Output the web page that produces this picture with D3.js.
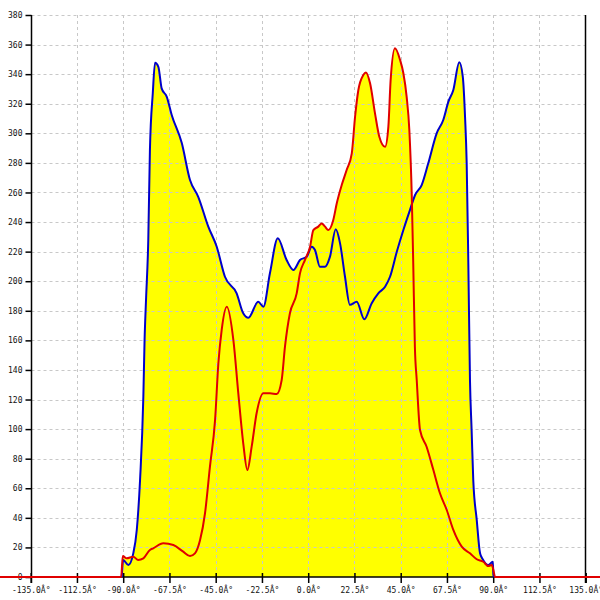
<!DOCTYPE html>
<html><head><meta charset="utf-8">
<script src="https://cdn.jsdelivr.net/npm/d3@7"></script>
<style>html,body{margin:0;padding:0;background:#fff;}svg{display:block;}</style>
</head><body>
<svg id="c" width="600" height="600"></svg>
<script>
const xTicks = [-135,-112.5,-90,-67.5,-45,-22.5,0,22.5,45,67.5,90,112.5,135];
const yTicks = d3.range(0, 381, 20);

const blueAngles = [-90.7,-90,-87.5,-85.1,-83.4,-81.8,-80.2,-79.6,-78.9,-77.8,-77.0,-75.6,-74.5,-72.9,-71.3,-68.8,-66.4,-61.5,-57.5,-53.5,-48.6,-44.5,-40.5,-34.8,-31.6,-29.1,-24.3,-21.8,-18.6,-14.8,-10.5,-7.2,-4.0,-0.7,1.7,3.3,5.7,8.2,10.6,13.4,15.5,17.9,20.3,23.6,27.3,30.9,34.1,37.4,39.8,43.1,46.3,49.5,52.0,55.2,58.4,62.5,65.7,68.2,70.6,73.5,75.2,76.3,77.1,77.9,78.7,79.5,80.3,82.0,83.6,84.9,87.6,89.8,90.1,90.4];
const blueValues = [0,11.5,8.1,16.0,31.8,65.6,121.9,160.2,187.3,227.9,288.7,327.3,347.7,345.0,330.4,324.7,312.4,293.4,268.4,257.1,236.9,223.3,203.0,191.8,178.3,175.3,186.1,182.8,205.5,229.0,214.3,207.6,214.3,216.6,223.3,221.1,209.8,209.8,216.6,235.1,225.6,203.0,184.0,186.1,174.2,185.1,191.8,196.3,203.0,219.9,234.6,248.1,258.3,265.0,279.7,300.0,309.0,321.4,329.3,348.0,338.3,311.2,279.7,212.1,133.2,99.4,65.6,38.5,16.0,12.0,8.1,10.3,1.4,0];

const redAngles = [-150,-91.0,-90.2,-88.3,-85.1,-82.7,-80.2,-77.0,-75.4,-70.5,-65.6,-60.8,-57.5,-55.1,-52.6,-50.2,-47.8,-45.3,-43.7,-42.1,-39.6,-36.4,-34.0,-31.6,-29.6,-27.5,-25.1,-21.8,-18.6,-15.3,-12.9,-11.3,-8.9,-5.6,-4.0,-1.6,0.9,2.5,4.9,6.6,8.2,9.8,12.2,13.9,16.3,18.7,21.2,22.8,24.4,26.8,28.1,30.1,32.5,34.6,37.4,39.0,40.1,42.2,44.7,46.3,47.9,49.2,50.4,51.1,51.9,52.8,54.4,57.6,60.9,64.1,67.4,70.6,74.7,78.7,82.0,85.2,87.6,89.3,90.1,90.9,150];
const redValues = [0,0,14.2,12.6,13.7,11.5,12.6,18.3,19.4,22.8,21.6,17.1,14.2,16.0,25.0,43.1,74.6,106.2,144.5,167.0,182.8,160.2,124.2,90.4,72.3,88.1,110.7,124.2,124.2,123.7,133.2,155.7,178.3,191.8,205.3,214.3,223.3,234.6,236.9,239.1,236.9,234.6,241.4,252.7,265.0,275.2,286.5,311.2,329.3,339.4,341.2,333.8,313.5,297.7,290.9,304.5,336.0,357.5,349.6,340.6,324.7,302.2,257.1,212.1,155.7,133.2,99.4,88.1,72.3,56.6,45.3,31.8,20.5,16.0,12.0,10.3,7.4,8.1,4.7,0,0];

const blue = blueAngles.map((a,i)=>({a, v: blueValues[i]}));
const red = redAngles.map((a,i)=>({a, v: redValues[i]}));

const svg = d3.select("#c");
const x = d3.scaleLinear().domain([-135,135]).range([30.7,585.7]);
const y = d3.scaleLinear().domain([0,380]).range([577,15]);

const area = d3.area().x(d=>x(d.a)).y0(y(0)).y1(d=>y(d.v)).curve(d3.curveMonotoneX);
const line = d3.line().x(d=>x(d.a)).y(d=>y(d.v)).curve(d3.curveMonotoneX);

svg.append("path").datum(blue).attr("d", area).attr("fill","#ffff00");
svg.append("path").datum(red).attr("d", area).attr("fill","#ffff00");

const xl = Math.round(x(-135))+0.5, xr = Math.round(x(135))-0.5;

// grid
const grid = svg.append("g").attr("stroke","#c8c8c8").attr("stroke-dasharray","3,3").attr("stroke-width",1);
yTicks.filter(t=>t>0).forEach(t=>{
  grid.append("line").attr("x1",xl).attr("x2",xr).attr("y1",Math.round(y(t))+0.5).attr("y2",Math.round(y(t))+0.5);
});
xTicks.filter(t=>t>-135 && t<135).forEach(t=>{
  grid.append("line").attr("y1",y(380)).attr("y2",y(0)).attr("x1",Math.round(x(t))+0.5).attr("x2",Math.round(x(t))+0.5);
});

// axes
const yAxis = d3.axisLeft(y).tickValues(yTicks).tickSize(6).tickPadding(3).tickFormat(d3.format("d"));
const gy = svg.append("g").attr("transform",`translate(${xl},0)`).call(yAxis);
gy.select(".domain").remove();
svg.append("line").attr("x1",xl).attr("x2",xl).attr("y1",y(380)).attr("y2",y(0)+6).attr("stroke","#000").attr("stroke-width",1.5);
svg.append("line").attr("x1",xr).attr("x2",xr).attr("y1",y(380)).attr("y2",y(0)+6).attr("stroke","#000").attr("stroke-width",1.5);

const xAxis = d3.axisBottom(x).tickValues(xTicks).tickSize(6).tickPadding(4).tickFormat(d=>d.toFixed(1)+"Â°");
const gx = svg.append("g").attr("transform",`translate(0,${y(0)})`).call(xAxis);
gx.select(".domain").remove();
svg.append("line").attr("x1",0).attr("x2",600).attr("y1",y(0)).attr("y2",y(0)).attr("stroke","#000").attr("stroke-width",1.5);
gx.selectAll(".tick line").attr("y1",-4);

svg.selectAll(".tick text").attr("font-family","DejaVu Sans Mono, monospace").attr("font-size","8px").attr("fill","#111");
svg.selectAll(".tick line").attr("stroke","#000").attr("stroke-width",1.5);

svg.append("path").datum(blue).attr("d", line).attr("fill","none").attr("stroke","#0000cc").attr("stroke-width",2);
svg.append("path").datum(red).attr("d", line).attr("fill","none").attr("stroke","#e00000").attr("stroke-width",2);
</script>
</body></html>
